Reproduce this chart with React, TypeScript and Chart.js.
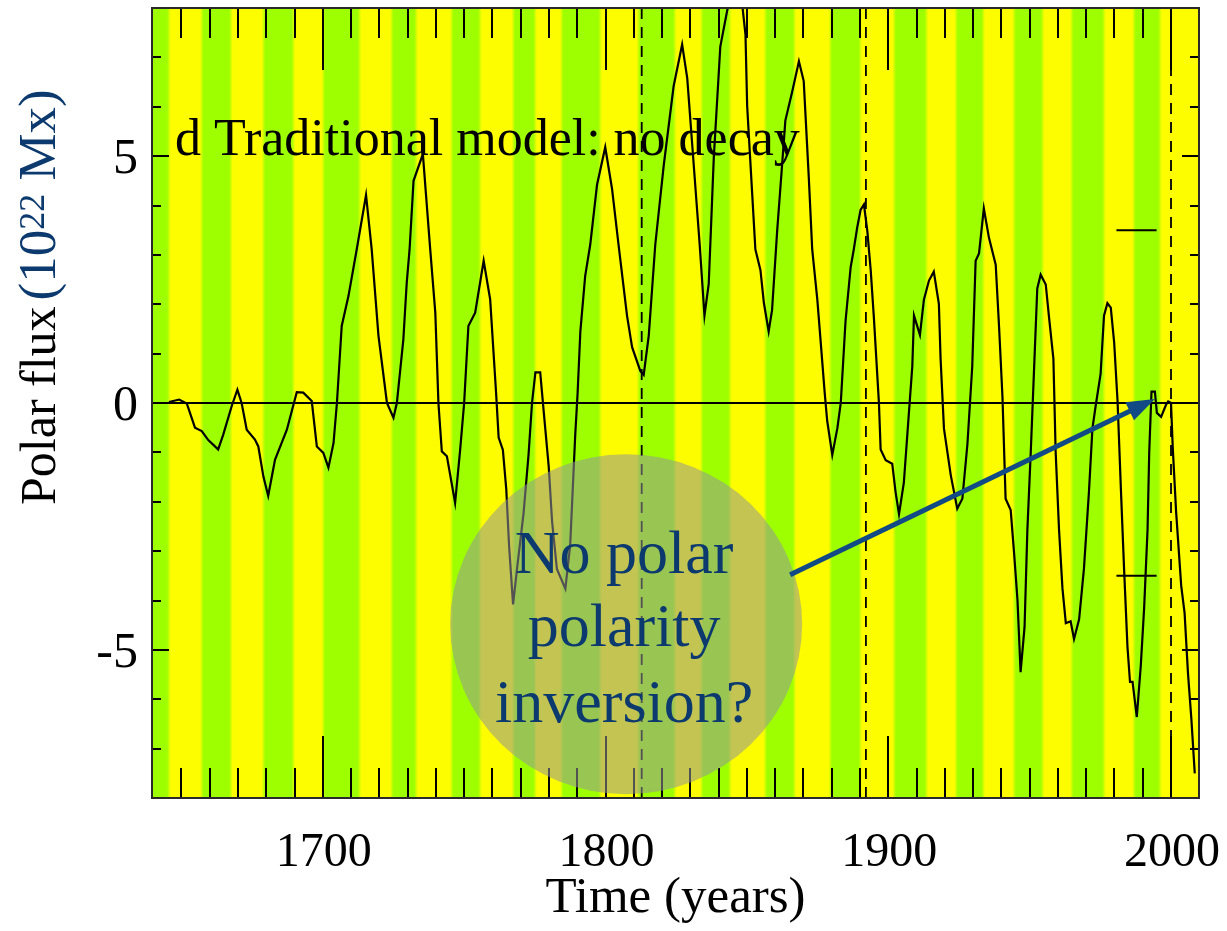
import React, { useEffect, useRef } from 'react';
import { Chart, registerables } from 'chart.js';

Chart.register(...registerables);

// ---- Polar flux, traditional model without decay (10^22 Mx) ----
const years = [
  1645.6, 1649.2, 1651.9, 1654.8, 1657.2, 1659.5, 1663.0, 1664.8, 1667.8, 1669.8,
  1671.3, 1673.1, 1676.0, 1677.2, 1679.0, 1680.7, 1683.1, 1687.3, 1690.8, 1693.1,
  1696.1, 1697.9, 1700.2, 1702.0, 1703.8, 1705.0, 1706.7, 1709.1, 1712.0, 1715.3,
  1717.3, 1719.7, 1722.7, 1725.0, 1726.2, 1728.5, 1729.7, 1730.7, 1732.1, 1735.4,
  1738.0, 1739.8, 1740.9, 1742.1, 1743.9, 1746.8, 1748.6, 1750.0, 1751.5, 1753.9,
  1756.9, 1759.2, 1761.3, 1762.2, 1763.7, 1764.9, 1765.9, 1767.3, 1768.7, 1771.0,
  1772.8, 1774.0, 1775.2, 1776.9, 1778.1, 1779.9, 1781.1, 1782.8, 1785.8, 1787.5,
  1789.3, 1790.1, 1791.1, 1792.8, 1794.6, 1797.0, 1799.9, 1802.3, 1804.6, 1807.6,
  1809.4, 1812.3, 1813.5, 1815.3, 1817.6, 1820.6, 1824.1, 1827.1, 1828.9, 1831.2,
  1833.3, 1835.0, 1836.5, 1838.3, 1840.6, 1843.0, 1846.2, 1848.4, 1849.5, 1850.1,
  1851.9, 1853.0, 1854.8, 1856.0, 1857.7, 1858.9, 1860.7, 1862.5, 1863.6, 1866.0,
  1868.4, 1870.1, 1871.9, 1873.1, 1874.9, 1876.0, 1877.5, 1878.4, 1880.2, 1882.0,
  1883.2, 1884.9, 1886.7, 1887.8, 1889.0, 1890.2, 1891.4, 1892.6, 1893.8, 1894.9,
  1896.1, 1896.7, 1897.3, 1899.1, 1901.4, 1902.6, 1903.8, 1905.5, 1907.3, 1908.5,
  1909.1, 1911.2, 1912.6, 1914.4, 1916.1, 1917.9, 1918.5, 1919.7, 1922.1, 1924.4,
  1926.2, 1928.0, 1929.7, 1930.9, 1932.1, 1933.8, 1935.6, 1938.0, 1939.2, 1940.4,
  1941.5, 1943.3, 1944.5, 1945.7, 1946.8, 1948.2, 1949.2, 1950.4, 1951.5, 1952.7,
  1953.9, 1955.7, 1956.8, 1958.4, 1959.2, 1960.4, 1961.6, 1962.8, 1964.5, 1965.7,
  1967.5, 1969.2, 1971.0, 1972.2, 1973.4, 1975.1, 1976.3, 1977.5, 1978.7, 1979.9,
  1981.1, 1982.3, 1983.4, 1984.6, 1985.5, 1986.4, 1987.9, 1989.3, 1990.5, 1991.7,
  1992.3, 1993.1, 1994.3, 1995.0, 1996.5, 1998.2, 1999.0, 2000.0, 2000.6, 2001.8,
  2003.6, 2004.8, 2006.0, 2007.2, 2008.4,
];

const flux = [
  0.02, 0.07, -0.01, -0.5, -0.57, -0.75, -0.94, -0.64, -0.06, 0.27,
  0.0, -0.54, -0.74, -0.88, -1.49, -1.88, -1.15, -0.54, 0.22, 0.21,
  0.04, -0.88, -1.01, -1.31, -0.81, 0.0, 1.56, 2.17, 3.11, 4.21,
  3.11, 1.36, 0.0, -0.3, 0.0, 1.29, 2.44, 3.11, 4.5, 5.04,
  3.11, 1.83, 0.0, -0.98, -1.08, -2.02, -0.94, 0.0, 1.56, 1.83,
  2.88, 2.1, 0.2, -0.7, -0.95, -1.75, -2.9, -4.08, -3.36, -2.24,
  -1.03, 0.0, 0.62, 0.62, -0.15, -1.28, -2.4, -3.36, -3.76, -2.88,
  -0.63, 0.17, 1.45, 2.57, 3.21, 4.42, 5.18, 4.34, 3.21, 1.77,
  1.13, 0.65, 0.57, 1.37, 3.21, 4.82, 6.42, 7.26, 6.58, 4.82,
  3.21, 1.77, 2.41, 4.98, 7.22, 7.94, 8.7, 8.04, 7.46, 6.01,
  4.21, 3.11, 2.69, 2.03, 1.45, 1.88, 3.48, 4.86, 5.72, 6.3,
  6.92, 6.52, 4.56, 3.11, 2.1, 1.31, 0.22, -0.36, -1.05, -0.51,
  0.0, 1.67, 2.75, 3.11, 3.55, 3.91, 4.02, 3.48, 2.68, 1.74,
  0.58, 0.0, -0.94, -1.16, -1.23, -1.81, -2.25, -1.62, -0.2, 0.74,
  1.77, 1.38, 2.09, 2.48, 2.66, 2.01, 0.9, -0.52, -1.46, -2.14,
  -1.94, -0.83, 0.74, 2.88, 3.03, 3.94, 3.35, 2.8, 1.53, 0.11,
  -1.94, -2.17, -3.04, -3.99, -5.45, -4.54, -2.57, -0.99, 0.59, 2.32,
  2.6, 2.4, 1.77, 0.9, -0.99, -2.57, -3.75, -4.46, -4.42, -4.78,
  -4.38, -3.36, -1.78, -0.52, -0.04, 0.59, 1.77, 2.02, 1.93, 1.22,
  0.03, -1.78, -3.36, -4.94, -5.65, -5.65, -6.36, -5.33, -4.15, -2.57,
  -0.99, 0.23, 0.23, -0.2, -0.28, -0.04, 0.03, 0.0, -0.88, -2.2,
  -3.7, -4.25, -5.47, -6.4, -7.5,
];

// Solar-cycle boundaries (years) separating the alternating background bands
const cycleEdges = [
  1645.6, 1657.2, 1667.5, 1679.0, 1689.6, 1700.2, 1713.0, 1724.4, 1733.0, 1745.6,
  1755.6, 1767.4, 1775.1, 1784.5, 1798.1, 1811.6, 1824.5, 1834.0, 1844.0, 1856.5,
  1866.8, 1879.5, 1890.1, 1902.1, 1913.5, 1924.0, 1933.6, 1944.5, 1954.6, 1964.9,
  1976.3, 1986.9, 1996.1,
];
const bandColors = ['#9eff00', '#fdfd00'];

const markerYears = [1812.8, 1892.1, 2000.0];
const errorSpan = [1980.7, 1994.9];
const errorLevels = [3.5, -3.5];

const xRange = [1639.6, 2009.9];
const yRange = [-8, 8];

const xMinorTicks = [
  1650, 1660, 1670, 1680, 1690, 1700, 1710, 1720, 1730, 1740, 1750, 1760, 1770, 1780,
  1790, 1800, 1810, 1820, 1830, 1840, 1850, 1860, 1870, 1880, 1890, 1900, 1910, 1920,
  1930, 1940, 1950, 1960, 1970, 1980, 1990, 2000,
];
const xMajorTicks = [1700, 1800, 1900, 2000];
const xTickLabels = ['1700', '1800', '1900', '2000'];
const yMinorTicks = [-7, -6, -5, -4, -3, -2, -1, 0, 1, 2, 3, 4, 5, 6, 7];
const yMajorTicks = [-5, 0, 5];
const yTickLabels = ['-5', '0', '5'];

const panelCaption = 'd Traditional model: no decay';
const xTitle = 'Time (years)';
const noteLines = ['No polar', 'polarity', 'inversion?'];

const SERIF = '"Liberation Serif", "Times New Roman", "DejaVu Serif", serif';
const NAVY = '#0c3a6e';

const decorPlugin = {
  id: 'decor',
  beforeDatasetsDraw(chart: any) {
    const { ctx, chartArea: a, scales } = chart;
    const x = scales.x;
    const y = scales.y;
    const w = a.right - a.left;

    // alternating cycle bands with softened edges
    const edges = [xRange[0], ...cycleEdges, xRange[1]];
    const grad = ctx.createLinearGradient(a.left, 0, a.right, 0);
    const soft = 1.8 / w;
    for (let i = 0; i < edges.length - 1; i++) {
      const c = bandColors[i % 2];
      const p0 = (x.getPixelForValue(edges[i]) - a.left) / w;
      const p1 = (x.getPixelForValue(edges[i + 1]) - a.left) / w;
      grad.addColorStop(Math.max(0, Math.min(1, i === 0 ? 0 : p0 + soft)), c);
      grad.addColorStop(Math.max(0, Math.min(1, i === edges.length - 2 ? 1 : p1 - soft)), c);
    }
    ctx.save();
    ctx.fillStyle = grad;
    ctx.fillRect(a.left, a.top, w, a.bottom - a.top);

    // panel caption
    ctx.fillStyle = '#000';
    ctx.font = `52px ${SERIF}`;
    ctx.textAlign = 'left';
    ctx.textBaseline = 'alphabetic';
    ctx.fillText(panelCaption, a.left + 23, y.getPixelForValue(5.0) - 1);
    ctx.restore();
  },
  afterDatasetsDraw(chart: any) {
    const { ctx, chartArea: a, scales } = chart;
    const x = scales.x;
    const y = scales.y;
    ctx.save();

    // inward ticks on all four sides
    ctx.strokeStyle = '#000';
    ctx.lineWidth = 2;
    ctx.beginPath();
    xMinorTicks.forEach((t) => {
      const px = Math.round(x.getPixelForValue(t));
      const len = xMajorTicks.includes(t) ? 62 : 30;
      ctx.moveTo(px, a.bottom);
      ctx.lineTo(px, a.bottom - len);
      ctx.moveTo(px, a.top);
      ctx.lineTo(px, a.top + len);
    });
    yMinorTicks.forEach((v) => {
      const py = Math.round(y.getPixelForValue(v));
      const len = yMajorTicks.includes(v) ? 17 : 9;
      ctx.moveTo(a.left, py);
      ctx.lineTo(a.left + len, py);
      ctx.moveTo(a.right, py);
      ctx.lineTo(a.right - len, py);
    });
    ctx.stroke();

    // frame
    ctx.strokeStyle = '#2a2a2a';
    ctx.lineWidth = 2;
    ctx.strokeRect(a.left, a.top, a.right - a.left, a.bottom - a.top);

    // translucent callout disc
    const cx = x.getPixelForValue(1807.3);
    const cy = y.getPixelForValue(-4.48);
    ctx.fillStyle = 'rgba(150,150,150,0.55)';
    ctx.beginPath();
    ctx.ellipse(cx, cy, 176, 170, 0, 0, Math.PI * 2);
    ctx.fill();

    ctx.fillStyle = NAVY;
    ctx.font = `62px ${SERIF}`;
    ctx.textAlign = 'center';
    ctx.textBaseline = 'alphabetic';
    const offs = [-51, 22, 98];
    noteLines.forEach((s, i) => ctx.fillText(s, cx - 2, cy + offs[i]));

    // arrow pointing to the missing reversal
    const x0 = x.getPixelForValue(1865.3);
    const y0 = y.getPixelForValue(-3.48);
    const x1 = x.getPixelForValue(1994.3);
    const y1 = y.getPixelForValue(0.08);
    const ang = Math.atan2(y1 - y0, x1 - x0);
    const headLen = 28;
    const headHalf = 10;
    ctx.strokeStyle = '#114a84';
    ctx.fillStyle = '#114a84';
    ctx.lineWidth = 5;
    ctx.beginPath();
    ctx.moveTo(x0, y0);
    ctx.lineTo(x1 - Math.cos(ang) * (headLen - 4), y1 - Math.sin(ang) * (headLen - 4));
    ctx.stroke();
    ctx.beginPath();
    ctx.moveTo(x1, y1);
    ctx.lineTo(
      x1 - Math.cos(ang) * headLen - Math.sin(ang) * headHalf,
      y1 - Math.sin(ang) * headLen + Math.cos(ang) * headHalf
    );
    ctx.lineTo(
      x1 - Math.cos(ang) * headLen + Math.sin(ang) * headHalf,
      y1 - Math.sin(ang) * headLen - Math.cos(ang) * headHalf
    );
    ctx.closePath();
    ctx.fill();

    // tick labels
    ctx.fillStyle = '#000';
    ctx.font = `48px ${SERIF}`;
    ctx.textAlign = 'center';
    xMajorTicks.forEach((t, i) => {
      ctx.fillText(xTickLabels[i], x.getPixelForValue(t) + 1, a.bottom + 68);
    });
    ctx.font = `50px ${SERIF}`;
    ctx.textAlign = 'right';
    yMajorTicks.forEach((v, i) => {
      ctx.fillText(yTickLabels[i], a.left - 14, y.getPixelForValue(v) + 17);
    });

    // x axis title
    ctx.font = `51px ${SERIF}`;
    ctx.textAlign = 'center';
    ctx.fillText(xTitle, (a.left + a.right) / 2, a.bottom + 114);

    // y axis title: "Polar flux" then the unit in navy with a superscript exponent
    ctx.translate(55, 505);
    ctx.rotate(-Math.PI / 2);
    ctx.textAlign = 'left';
    ctx.font = `50px ${SERIF}`;
    ctx.fillStyle = '#000';
    let cur = 0;
    const head = 'Polar flux';
    ctx.fillText(head, cur, 0);
    cur += ctx.measureText(head).width + 6;
    ctx.fillStyle = NAVY;
    ctx.font = `53px ${SERIF}`;
    ctx.fillText('(10', cur, 0);
    cur += ctx.measureText('(10').width;
    ctx.font = `36px ${SERIF}`;
    ctx.fillText('22', cur, -11);
    cur += ctx.measureText('22').width;
    ctx.font = `53px ${SERIF}`;
    ctx.fillText(' Mx)', cur, 0);

    ctx.restore();
  },
};

export default function App() {
  const canvasRef = useRef<HTMLCanvasElement | null>(null);

  useEffect(() => {
    const canvas = canvasRef.current;
    if (!canvas) return;

    const curve = years.map((t, i) => ({ x: t, y: flux[i] }));
    const hline = (v: number, a: number, b: number) => [
      { x: a, y: v },
      { x: b, y: v },
    ];

    const datasets: any[] = [
      {
        label: 'Polar flux',
        data: curve,
        borderColor: '#000',
        borderWidth: 2.2,
        pointRadius: 0,
        tension: 0,
      },
      ...errorLevels.map((v) => ({
        label: 'bar',
        data: hline(v, errorSpan[0], errorSpan[1]),
        borderColor: '#000',
        borderWidth: 2,
        pointRadius: 0,
      })),
      {
        label: 'zero',
        data: hline(0, xRange[0], xRange[1]),
        borderColor: '#000',
        borderWidth: 1.8,
        pointRadius: 0,
      },
      ...markerYears.map((t) => ({
        label: 'marker',
        data: [
          { x: t, y: yRange[0] },
          { x: t, y: yRange[1] },
        ],
        borderColor: '#000',
        borderWidth: 1.8,
        borderDash: [11, 8],
        pointRadius: 0,
      })),
    ];

    const chart = new Chart(canvas, {
      type: 'line',
      data: { datasets },
      options: {
        animation: false,
        responsive: false,
        devicePixelRatio: 1,
        layout: { padding: { left: 152, top: 8, right: 28, bottom: 133 } },
        plugins: { legend: { display: false }, tooltip: { enabled: false } },
        scales: {
          x: { type: 'linear', min: xRange[0], max: xRange[1], display: false },
          y: { type: 'linear', min: yRange[0], max: yRange[1], display: false },
        },
      },
      plugins: [decorPlugin],
    });

    return () => chart.destroy();
  }, []);

  return (
    <div style={{ position: 'absolute', left: 0, top: 0, width: 1227, height: 931, background: '#fff' }}>
      <canvas ref={canvasRef} width={1227} height={931} style={{ display: 'block' }} />
    </div>
  );
}
